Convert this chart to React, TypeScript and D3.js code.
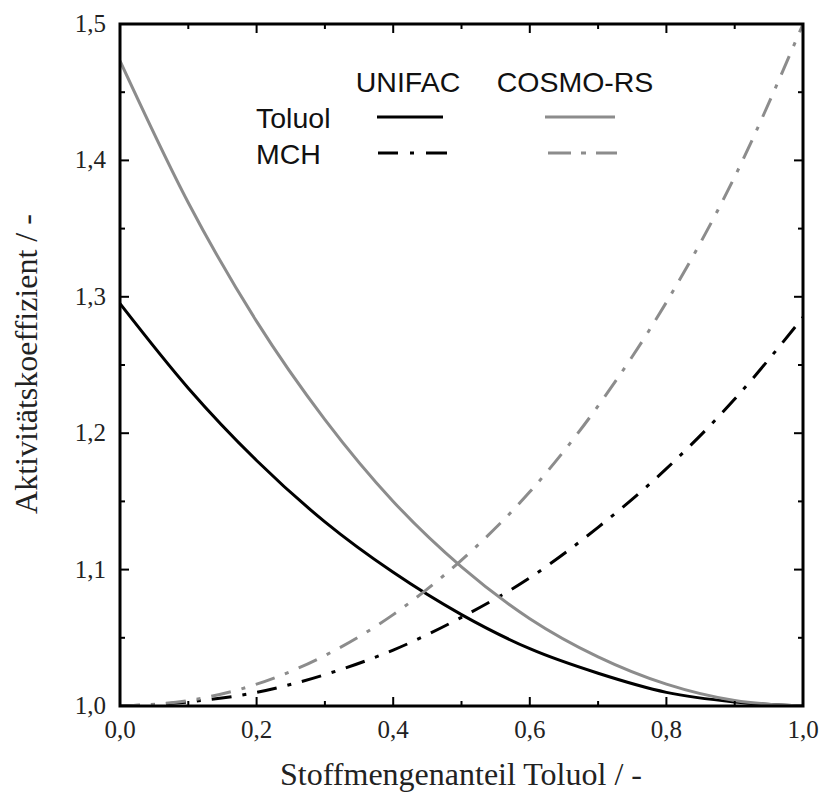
import React, { useEffect } from "react";
import * as d3 from "d3";

const xs = [0, 0.1, 0.2, 0.3, 0.4, 0.5, 0.6, 0.7, 0.8, 0.9, 1.0];
const unifacToluol = [1.295, 1.233, 1.18, 1.135, 1.098, 1.067, 1.042, 1.024, 1.01, 1.003, 1.0];
const unifacMCH = [1.0, 1.003, 1.01, 1.023, 1.041, 1.065, 1.094, 1.131, 1.174, 1.225, 1.285];
const cosmoToluol = [1.473, 1.369, 1.282, 1.21, 1.15, 1.102, 1.064, 1.036, 1.016, 1.004, 1.0];
const cosmoMCH = [1.0, 1.004, 1.016, 1.037, 1.067, 1.107, 1.157, 1.22, 1.296, 1.388, 1.5];

const xMajor = [0, 0.2, 0.4, 0.6, 0.8, 1.0];
const xMinor = [0.1, 0.3, 0.5, 0.7, 0.9];
const yMajor = [1.0, 1.1, 1.2, 1.3, 1.4, 1.5];
const yMinor = [1.05, 1.15, 1.25, 1.35, 1.45];

const fmt = (v: number) => v.toFixed(1).replace(".", ",");

const BLACK = "#000";
const GREY = "#8c8c8c";
const DASH = "20 11 4 11";

export default function App() {
  useEffect(() => {
    document.body.style.margin = "0";
  }, []);
  const W = 819, H = 793;
  const L = 120, R = 803, T = 24, B = 706;
  const x = d3.scaleLinear().domain([0, 1]).range([L, R]);
  const y = d3.scaleLinear().domain([1, 1.5]).range([B, T]);
  const line = (vals: number[]) =>
    d3.line<number>().x((_, i) => x(xs[i])).y((d) => y(d)).curve(d3.curveMonotoneX)(vals) || "";

  const series = [
    { vals: unifacToluol, color: BLACK, dash: undefined },
    { vals: unifacMCH, color: BLACK, dash: DASH },
    { vals: cosmoToluol, color: GREY, dash: undefined },
    { vals: cosmoMCH, color: GREY, dash: DASH },
  ];

  const majLen = 9, minLen = 5;
  const serif = "'Liberation Serif', 'Times New Roman', serif";
  const sans = "'Liberation Sans', Arial, sans-serif";

  return (
    <svg width={W} height={H} style={{ display: "block", background: "#fff" }}>
      <defs>
        <clipPath id="plot">
          <rect x={L} y={T - 2} width={R - L} height={B - T + 2} />
        </clipPath>
      </defs>
      <g clipPath="url(#plot)">
        {series.map((s, i) => (
          <path key={i} d={line(s.vals)} fill="none" stroke={s.color} strokeWidth={3}
            strokeDasharray={s.dash} />
        ))}
      </g>
      {xMajor.map((v) => (
        <g key={"xM" + v} stroke={BLACK} strokeWidth={2}>
          <line x1={x(v)} x2={x(v)} y1={B} y2={B - majLen} />
          <line x1={x(v)} x2={x(v)} y1={T} y2={T + majLen} />
        </g>
      ))}
      {xMinor.map((v) => (
        <g key={"xm" + v} stroke={BLACK} strokeWidth={2}>
          <line x1={x(v)} x2={x(v)} y1={B} y2={B - minLen} />
          <line x1={x(v)} x2={x(v)} y1={T} y2={T + minLen} />
        </g>
      ))}
      {yMajor.map((v) => (
        <g key={"yM" + v} stroke={BLACK} strokeWidth={2}>
          <line x1={L} x2={L + majLen} y1={y(v)} y2={y(v)} />
          <line x1={R} x2={R - majLen} y1={y(v)} y2={y(v)} />
        </g>
      ))}
      {yMinor.map((v) => (
        <g key={"ym" + v} stroke={BLACK} strokeWidth={2}>
          <line x1={L} x2={L + minLen} y1={y(v)} y2={y(v)} />
          <line x1={R} x2={R - minLen} y1={y(v)} y2={y(v)} />
        </g>
      ))}
      <rect x={L} y={T} width={R - L} height={B - T} fill="none" stroke={BLACK} strokeWidth={3} />
      {xMajor.map((v) => (
        <text key={"xl" + v} x={x(v)} y={B + 32} textAnchor="middle" fontFamily={serif} fontSize={25} fill="#222">
          {fmt(v)}
        </text>
      ))}
      {yMajor.map((v) => (
        <text key={"yl" + v} x={L - 14} y={y(v) + 8} textAnchor="end" fontFamily={serif} fontSize={25} fill="#222">
          {fmt(v)}
        </text>
      ))}
      <text x={461} y={785} textAnchor="middle" fontFamily={serif} fontSize={32} fill="#222">
        Stoffmengenanteil Toluol / -
      </text>
      <text transform={`translate(37, 364) rotate(-90)`} textAnchor="middle" fontFamily={serif} fontSize={32} fill="#222">
        Aktivitätskoeffizient / -
      </text>
      <g fontFamily={sans} fontSize={28.5} fill="#111">
        <text x={408} y={92} textAnchor="middle">UNIFAC</text>
        <text x={575} y={92} textAnchor="middle">COSMO-RS</text>
        <text x={256} y={128}>Toluol</text>
        <text x={256} y={164}>MCH</text>
      </g>
      <line x1={377} x2={443} y1={117} y2={117} stroke={BLACK} strokeWidth={3} />
      <line x1={545} x2={615} y1={117} y2={117} stroke={GREY} strokeWidth={3} />
      <line x1={378} x2={447} y1={153} y2={153} stroke={BLACK} strokeWidth={3} strokeDasharray="20 12 4 12 30" />
      <line x1={548} x2={617} y1={153} y2={153} stroke={GREY} strokeWidth={3} strokeDasharray="23 10 5 10 30" />
    </svg>
  );
}
